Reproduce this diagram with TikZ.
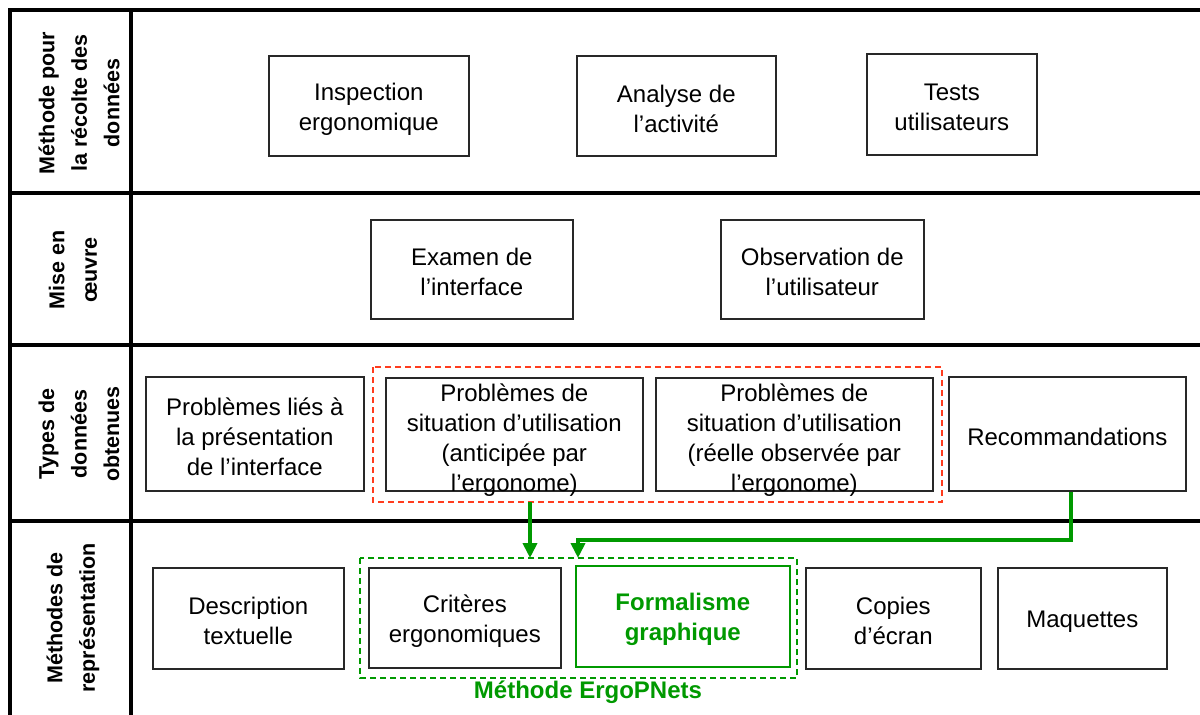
\documentclass[tikz,border=0pt]{standalone}
\usepackage{fontspec}
\setmainfont{Liberation Sans}
\usetikzlibrary{arrows.meta}
\definecolor{egreen}{RGB}{0,153,0}
\definecolor{ered}{RGB}{255,60,30}
\definecolor{bord}{RGB}{40,40,40}
\newcommand\cellshift{-3pt}
% #1 extra box style, #2 name, #3 top-left, #4 width, #5 height, #6 text
\newcommand\mycell[6][]{%
  \node[cell,minimum width=#4,minimum height=#5,#1] (#2) at (#3) {};
  \node[celltext,#1,draw=none] (#2-t) at ([yshift=\cellshift]#2.center) {#6};}
\begin{document}
\begin{tikzpicture}[x=1pt,y=-1pt,
  grid/.style={line width=4.5pt,black},
  cell/.style={draw=bord,line width=1.6pt,inner sep=0pt,anchor=north west},
  celltext/.style={align=center,inner sep=0pt,font=\fontsize{24}{30}\selectfont},
  gbox/.style={draw=egreen,text=egreen,font=\fontsize{24}{30}\selectfont\bfseries},
  rowlabel/.style={rotate=90,align=center,font=\fontsize{21.5}{32.5}\selectfont\bfseries},
  garrow/.style={egreen,line width=4pt,-{Triangle[length=15pt,width=14pt]}},
]
\useasboundingbox (0,0) rectangle (1200,715);
% table grid
\draw[grid] (10,715) -- (10,10) -- (1200,10);
\draw[grid] (131,10) -- (131,715);
\draw[grid] (10,193) -- (1200,193);
\draw[grid] (10,345) -- (1200,345);
\draw[grid] (10,521) -- (1200,521);
% row labels
\node[rowlabel] (l1) at (79,103) {Méthode pour\\la récolte des\\données};
\node[rowlabel] (l2) at (73,270) {Mise en\\œuvre};
\node[rowlabel] (l3) at (79,434) {Types de\\données\\obtenues};
\node[rowlabel] (l4) at (73,618) {Méthodes de\\représentation};
% row 1
\mycell{insp}{268,55}{200pt}{100pt}{Inspection\\ergonomique}
\mycell{anal}{576,55}{199pt}{100pt}{Analyse de\\l’activité}
\mycell{tests}{866,53}{170pt}{101pt}{Tests\\utilisateurs}
% row 2
\mycell{exam}{370,219}{202pt}{99pt}{Examen de\\l’interface}
\mycell{obs}{720,219}{203pt}{99pt}{Observation de\\l’utilisateur}
% row 3
\draw[ered,dashed,line width=1.3pt,dash pattern=on 6pt off 4pt] (373,367) rectangle (942,502);
\coordinate (redbot) at (530,502);
\mycell{pres}{145,376}{218pt}{114pt}{Problèmes liés à\\la présentation\\de l’interface}
\renewcommand\cellshift{-6pt}
\mycell{antic}{385,377}{257pt}{113pt}{Problèmes de\\situation d’utilisation\\(anticipée par\\l’ergonome)}
\mycell{reel}{655,377}{277pt}{113pt}{Problèmes de\\situation d’utilisation\\(réelle observée par\\l’ergonome)}
\renewcommand\cellshift{-3pt}
\mycell{reco}{948,376}{237pt}{114pt}{Recommandations}
% row 4
\draw[egreen,dashed,line width=1.3pt,dash pattern=on 6pt off 4pt] (360,558) rectangle (797,678);
\mycell{desc}{152,567}{191pt}{101pt}{Description\\textuelle}
\mycell{crit}{368,567}{192pt}{100pt}{Critères\\ergonomiques}
\mycell[gbox]{form}{575,565}{214pt}{101pt}{Formalisme\\graphique}
\mycell{copies}{805,567}{175pt}{101pt}{Copies\\d’écran}
\mycell{maq}{997,567}{169pt}{101pt}{Maquettes}
\node[text=egreen,font=\fontsize{24}{28}\selectfont\bfseries] (ergo) at (588,692) {Méthode ErgoPNets};
% arrows
\coordinate (t1) at (530,558);
\coordinate (t2) at (578,558);
\draw[garrow] (redbot) -- (t1);
\draw[garrow] (reco.south -| 1071,0) -- (1071,540) -- (578,540) -- (t2);
\end{tikzpicture}
\end{document}
